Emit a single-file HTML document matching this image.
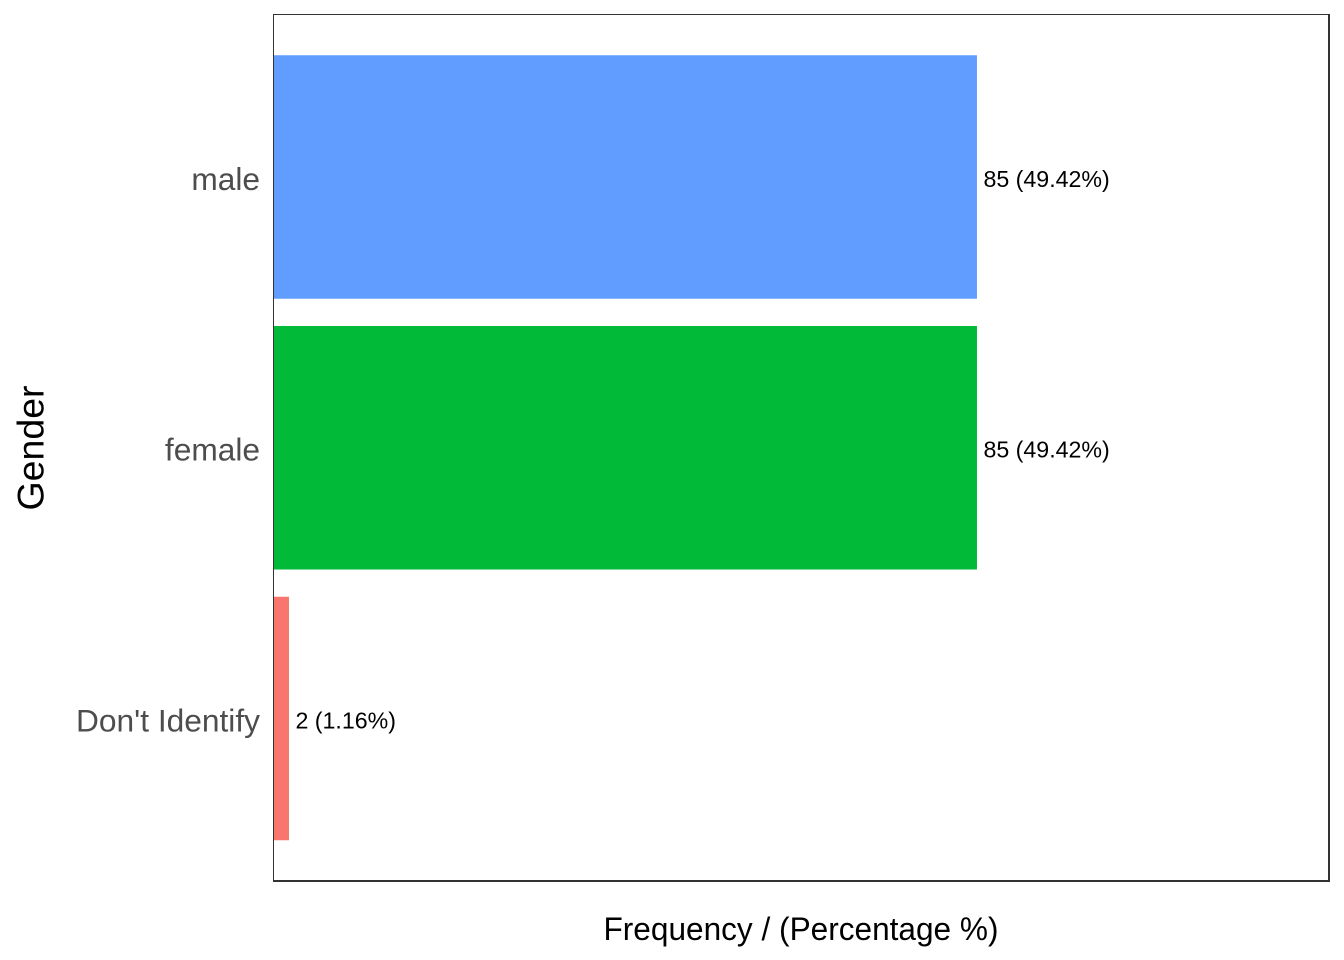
<!DOCTYPE html>
<html lang="en">
<head>
<meta charset="utf-8">
<title>Gender frequency chart</title>
<style>
html,body{margin:0;padding:0;background:#fff;width:1344px;height:960px;overflow:hidden}
svg{display:block;font-family:"Liberation Sans",Arial,sans-serif}
</style>
</head>
<body>
<svg id="chart" width="1344" height="960" viewBox="0 0 1344 960" xmlns="http://www.w3.org/2000/svg">
  <defs>
    <clipPath id="panel-clip"><rect x="274" y="15" width="1054" height="865"></rect></clipPath>
  </defs>
  <rect x="0" y="0" width="1344" height="960" fill="#ffffff"></rect>
  <g id="bars" clip-path="url(#panel-clip)"></g>
  <g id="value-labels"></g>
  <g id="category-labels"></g>
  <g fill="#333333">
    <rect x="273" y="14" width="1057" height="1"></rect>
    <rect x="273" y="14" width="1" height="868"></rect>
    <rect x="1328" y="14" width="2" height="868"></rect>
    <rect x="273" y="880" width="1057" height="2"></rect>
  </g>
  <text x="801" y="940" text-anchor="middle" font-size="32" fill="#000000" textLength="395" lengthAdjust="spacingAndGlyphs">Frequency / (Percentage %)</text>
  <text transform="translate(43.5,448) rotate(-90)" text-anchor="middle" font-size="37.5" fill="#000000">Gender</text>
</svg>
<script>
var categories = ['male', 'female', "Don't Identify"];
var counts = [85, 85, 2];
var percents = [49.42, 49.42, 1.16];
var barColors = ['#619CFF', '#00BA38', '#F8766D'];
var barNames = ['bar-male', 'bar-female', 'bar-dont-identify'];
var valueNames = ['value-label-male', 'value-label-female', 'value-label-dont-identify'];
var categoryNames = ['category-label-male', 'category-label-female', 'category-label-dont-identify'];

var NS = 'http://www.w3.org/2000/svg';
var panelLeft = 272.4;
var xUnit = 8.289;
var firstCenter = 177;
var bandStep = 270.75;
var barHeight = 243.5;

function xScale(v) { return panelLeft + v * xUnit; }
function yScale(i) { return firstCenter + i * bandStep; }

var barsGroup = document.getElementById('bars');
var valuesGroup = document.getElementById('value-labels');
var categoriesGroup = document.getElementById('category-labels');

categories.forEach(function (name, i) {
  var bar = document.createElementNS(NS, 'rect');
  bar.setAttribute('x', xScale(0));
  bar.setAttribute('y', yScale(i) - barHeight / 2);
  bar.setAttribute('width', xScale(counts[i]) - xScale(0));
  bar.setAttribute('height', barHeight);
  bar.setAttribute('fill', barColors[i]);
  
  
  barsGroup.appendChild(bar);

  var value = document.createElementNS(NS, 'text');
  value.setAttribute('x', xScale(counts[i]) + 6.5);
  value.setAttribute('y', yScale(i) + 9.9);
  value.setAttribute('font-size', '23.2');
  value.setAttribute('fill', '#000000');
  value.textContent = counts[i] + ' (' + percents[i].toFixed(2) + '%)';
  
  
  valuesGroup.appendChild(value);

  var label = document.createElementNS(NS, 'text');
  label.setAttribute('x', 260);
  label.setAttribute('y', yScale(i) + 12.9);
  label.setAttribute('text-anchor', 'end');
  label.setAttribute('font-size', '31.7');
  label.setAttribute('fill', '#4D4D4D');
  label.textContent = name;
  
  
  categoriesGroup.appendChild(label);
});
</script>
</body>
</html>
